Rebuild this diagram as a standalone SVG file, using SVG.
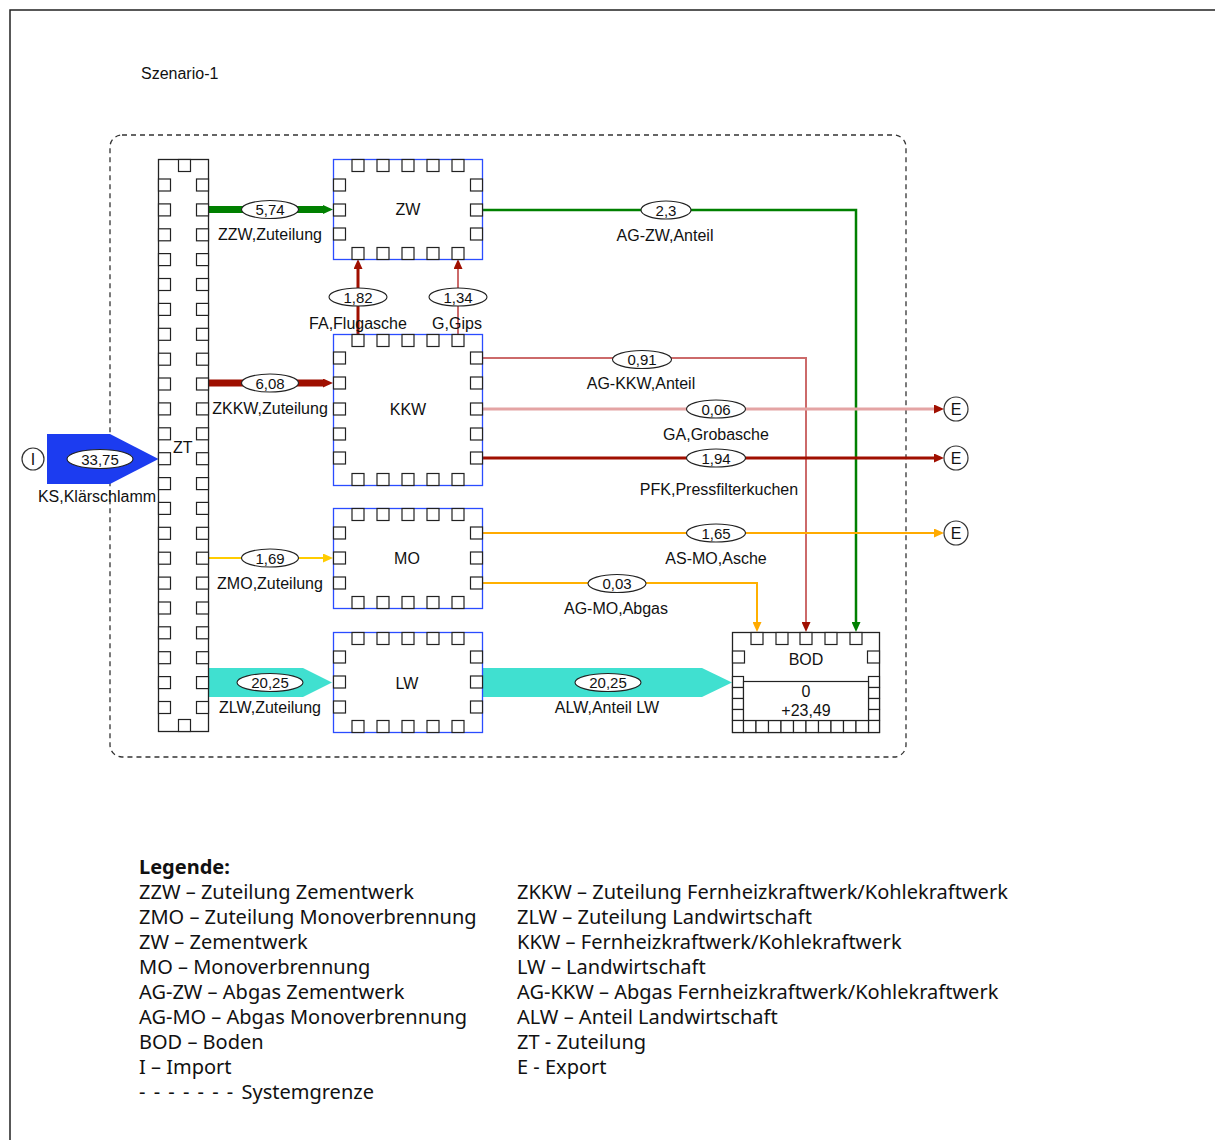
<svg xmlns="http://www.w3.org/2000/svg" xmlns:xlink="http://www.w3.org/1999/xlink" width="1215" height="1140" viewBox="0 0 1215 1140">
<style>
.t{font-family:"Liberation Sans",Arial,sans-serif;font-size:16px;text-anchor:middle;fill:#111}
.n{font-family:"Liberation Sans",Arial,sans-serif;font-size:15px;text-anchor:middle;fill:#111}
.ts{font-family:"Liberation Sans",Arial,sans-serif;font-size:16px;fill:#111}
.lg{font-family:"Noto Sans",sans-serif;font-size:20px;fill:#111}
.lgb{font-family:"Noto Sans",sans-serif;font-size:20px;font-weight:bold;fill:#111}
.port{fill:#fff;stroke:#222;stroke-width:1.2}
.node{fill:#fff;stroke:#2a4cff;stroke-width:1.3}
.bnode{fill:#fff;stroke:#222;stroke-width:1.3}
.ell{fill:#fff;stroke:#222;stroke-width:1.1}
.circ{fill:#fff;stroke:#333;stroke-width:1.2}
.ln{fill:none}
</style>
<defs>
<rect id="p" class="port" width="12" height="12"/>
<marker id="aG" markerUnits="userSpaceOnUse" markerWidth="10" markerHeight="9" refX="0" refY="4.5" orient="auto"><path d="M0,0 L10,4.5 L0,9 z" fill="#008000"/></marker>
<marker id="aR" markerUnits="userSpaceOnUse" markerWidth="10" markerHeight="9" refX="0" refY="4.5" orient="auto"><path d="M0,0 L10,4.5 L0,9 z" fill="#a00f00"/></marker>
<marker id="aY" markerUnits="userSpaceOnUse" markerWidth="10" markerHeight="9" refX="0" refY="4.5" orient="auto"><path d="M0,0 L10,4.5 L0,9 z" fill="#ffcc00"/></marker>
<marker id="aO" markerUnits="userSpaceOnUse" markerWidth="10" markerHeight="9" refX="0" refY="4.5" orient="auto"><path d="M0,0 L10,4.5 L0,9 z" fill="#ffaa00"/></marker>
</defs>
<rect x="0" y="0" width="1215" height="1140" fill="#fff"/>
<rect x="10" y="10" width="1230" height="1150" fill="none" stroke="#222" stroke-width="1.5"/>
<text class="ts" x="141" y="79">Szenario-1</text>
<rect id="systemgrenze" x="110" y="135" width="796" height="622" rx="12" ry="12" fill="none" stroke="#333" stroke-width="1.3" stroke-dasharray="5,4"/>

<g id="connectors">
  <polygon points="47,434 110,434 158.5,459 110,484 47,484" fill="#1c3cf0"/>
  <line class="ln" x1="208.5" y1="209.5" x2="323" y2="209.5" stroke="#008000" stroke-width="7" marker-end="url(#aG)"/>
  <line class="ln" x1="208.5" y1="383" x2="323" y2="383" stroke="#9e0f00" stroke-width="7" marker-end="url(#aR)"/>
  <line class="ln" x1="208.5" y1="558" x2="323" y2="558" stroke="#ffcc00" stroke-width="2" marker-end="url(#aY)"/>
  <polygon points="208.5,668 303,668 332,682.5 303,697 208.5,697" fill="#40e0d0"/>
  <line class="ln" x1="358" y1="334" x2="358" y2="269" stroke="#a00f00" stroke-width="3" marker-end="url(#aR)"/>
  <line class="ln" x1="458" y1="334" x2="458" y2="269" stroke="#cc6a6a" stroke-width="2" marker-end="url(#aR)"/>
  <path class="ln" d="M483,210 H856 V622" stroke="#008000" stroke-width="2.5" marker-end="url(#aG)"/>
  <path class="ln" d="M483,358 H806 V622" stroke="#cc6a6a" stroke-width="2" marker-end="url(#aR)"/>
  <path class="ln" d="M483,409 H934" stroke="#e4a4a4" stroke-width="3" marker-end="url(#aR)"/>
  <path class="ln" d="M483,458 H934" stroke="#a00f00" stroke-width="3" marker-end="url(#aR)"/>
  <path class="ln" d="M483,533 H934" stroke="#ffaa00" stroke-width="2" marker-end="url(#aO)"/>
  <path class="ln" d="M483,583 H757 V622" stroke="#ffb000" stroke-width="2" marker-end="url(#aO)"/>
  <polygon points="482.5,668 702,668 732,682.5 702,697 482.5,697" fill="#40e0d0"/>

  <ellipse class="ell" cx="100" cy="459" rx="33" ry="9.5"/><text class="n" x="100" y="464.5">33,75</text>
  <text class="t" x="97" y="502">KS,Klärschlamm</text>
  <ellipse class="ell" cx="270" cy="209.5" rx="28.5" ry="9"/><text class="n" x="270" y="215">5,74</text>
  <text class="t" x="270" y="240">ZZW,Zuteilung</text>
  <ellipse class="ell" cx="270" cy="383" rx="28.5" ry="9"/><text class="n" x="270" y="388.5">6,08</text>
  <text class="t" x="270" y="414">ZKKW,Zuteilung</text>
  <ellipse class="ell" cx="270" cy="558" rx="28.5" ry="9"/><text class="n" x="270" y="563.5">1,69</text>
  <text class="t" x="270" y="589">ZMO,Zuteilung</text>
  <ellipse class="ell" cx="270" cy="682.5" rx="33" ry="9"/><text class="n" x="270" y="688">20,25</text>
  <text class="t" x="270" y="713">ZLW,Zuteilung</text>
  <ellipse class="ell" cx="358" cy="297" rx="29" ry="9"/><text class="n" x="358" y="302.5">1,82</text>
  <text class="t" x="358" y="329">FA,Flugasche</text>
  <ellipse class="ell" cx="458" cy="297" rx="29" ry="9"/><text class="n" x="458" y="302.5">1,34</text>
  <text class="t" x="457" y="329">G,Gips</text>
  <ellipse class="ell" cx="666" cy="210" rx="25" ry="9"/><text class="n" x="666" y="215.5">2,3</text>
  <text class="t" x="665" y="241">AG-ZW,Anteil</text>
  <ellipse class="ell" cx="642" cy="359.5" rx="29.5" ry="9"/><text class="n" x="642" y="365">0,91</text>
  <text class="t" x="641" y="389">AG-KKW,Anteil</text>
  <ellipse class="ell" cx="716" cy="409" rx="29.5" ry="9"/><text class="n" x="716" y="414.5">0,06</text>
  <text class="t" x="716" y="440">GA,Grobasche</text>
  <ellipse class="ell" cx="716" cy="458" rx="29.5" ry="9"/><text class="n" x="716" y="463.5">1,94</text>
  <text class="t" x="719" y="495">PFK,Pressfilterkuchen</text>
  <ellipse class="ell" cx="716" cy="533" rx="29.5" ry="9"/><text class="n" x="716" y="538.5">1,65</text>
  <text class="t" x="716" y="564">AS-MO,Asche</text>
  <ellipse class="ell" cx="617" cy="583.5" rx="29" ry="9"/><text class="n" x="617" y="589">0,03</text>
  <text class="t" x="616" y="614">AG-MO,Abgas</text>
  <ellipse class="ell" cx="608" cy="682.5" rx="33" ry="9"/><text class="n" x="608" y="688">20,25</text>
  <text class="t" x="607" y="713">ALW,Anteil LW</text>
</g>

<g id="node-I"><circle class="circ" cx="33" cy="459" r="11"/><text class="t" x="33" y="465">I</text></g>
<g id="node-E1"><circle class="circ" cx="956" cy="409" r="12"/><text class="t" x="956" y="415">E</text></g>
<g id="node-E2"><circle class="circ" cx="956" cy="458" r="12"/><text class="t" x="956" y="464">E</text></g>
<g id="node-E3"><circle class="circ" cx="956" cy="533" r="12"/><text class="t" x="956" y="539">E</text></g>

<g id="node-ZT">
  <rect class="bnode" x="158.5" y="159.5" width="50" height="572"/>
  <use href="#p" x="178.5" y="159.5"/><use href="#p" x="178.5" y="719.5"/>
  <use href="#p" x="158.5" y="179"/><use href="#p" x="196.5" y="179"/>
  <use href="#p" x="158.5" y="203.9"/><use href="#p" x="196.5" y="203.9"/>
  <use href="#p" x="158.5" y="228.8"/><use href="#p" x="196.5" y="228.8"/>
  <use href="#p" x="158.5" y="253.6"/><use href="#p" x="196.5" y="253.6"/>
  <use href="#p" x="158.5" y="278.5"/><use href="#p" x="196.5" y="278.5"/>
  <use href="#p" x="158.5" y="303.4"/><use href="#p" x="196.5" y="303.4"/>
  <use href="#p" x="158.5" y="328.3"/><use href="#p" x="196.5" y="328.3"/>
  <use href="#p" x="158.5" y="353.2"/><use href="#p" x="196.5" y="353.2"/>
  <use href="#p" x="158.5" y="378"/><use href="#p" x="196.5" y="378"/>
  <use href="#p" x="158.5" y="402.9"/><use href="#p" x="196.5" y="402.9"/>
  <use href="#p" x="158.5" y="427.8"/><use href="#p" x="196.5" y="427.8"/>
  <use href="#p" x="158.5" y="452.7"/><use href="#p" x="196.5" y="452.7"/>
  <use href="#p" x="158.5" y="477.6"/><use href="#p" x="196.5" y="477.6"/>
  <use href="#p" x="158.5" y="502.4"/><use href="#p" x="196.5" y="502.4"/>
  <use href="#p" x="158.5" y="527.3"/><use href="#p" x="196.5" y="527.3"/>
  <use href="#p" x="158.5" y="552.2"/><use href="#p" x="196.5" y="552.2"/>
  <use href="#p" x="158.5" y="577.1"/><use href="#p" x="196.5" y="577.1"/>
  <use href="#p" x="158.5" y="602"/><use href="#p" x="196.5" y="602"/>
  <use href="#p" x="158.5" y="626.8"/><use href="#p" x="196.5" y="626.8"/>
  <use href="#p" x="158.5" y="651.7"/><use href="#p" x="196.5" y="651.7"/>
  <use href="#p" x="158.5" y="676.6"/><use href="#p" x="196.5" y="676.6"/>
  <use href="#p" x="158.5" y="701.5"/><use href="#p" x="196.5" y="701.5"/>
  <text class="ts" x="173" y="453">ZT</text>
</g>

<g id="node-ZW">
  <rect class="node" x="333.5" y="159.5" width="149" height="100"/>
  <use href="#p" x="352" y="159.5"/><use href="#p" x="377" y="159.5"/><use href="#p" x="402" y="159.5"/><use href="#p" x="427" y="159.5"/><use href="#p" x="452" y="159.5"/>
  <use href="#p" x="352" y="247.5"/><use href="#p" x="377" y="247.5"/><use href="#p" x="402" y="247.5"/><use href="#p" x="427" y="247.5"/><use href="#p" x="452" y="247.5"/>
  <use href="#p" x="333.5" y="179"/><use href="#p" x="333.5" y="204"/><use href="#p" x="333.5" y="228"/>
  <use href="#p" x="470.5" y="179"/><use href="#p" x="470.5" y="204"/><use href="#p" x="470.5" y="228"/>
  <text class="t" x="408" y="215">ZW</text>
</g>

<g id="node-KKW">
  <rect class="node" x="333.5" y="334.5" width="149" height="151"/>
  <use href="#p" x="352" y="334.5"/><use href="#p" x="377" y="334.5"/><use href="#p" x="402" y="334.5"/><use href="#p" x="427" y="334.5"/><use href="#p" x="452" y="334.5"/>
  <use href="#p" x="352" y="473.5"/><use href="#p" x="377" y="473.5"/><use href="#p" x="402" y="473.5"/><use href="#p" x="427" y="473.5"/><use href="#p" x="452" y="473.5"/>
  <use href="#p" x="333.5" y="352"/><use href="#p" x="333.5" y="377"/><use href="#p" x="333.5" y="403"/><use href="#p" x="333.5" y="428"/><use href="#p" x="333.5" y="452"/>
  <use href="#p" x="470.5" y="352"/><use href="#p" x="470.5" y="377"/><use href="#p" x="470.5" y="403"/><use href="#p" x="470.5" y="428"/><use href="#p" x="470.5" y="452"/>
  <text class="t" x="408" y="415">KKW</text>
</g>

<g id="node-MO">
  <rect class="node" x="333.5" y="508.5" width="149" height="100"/>
  <use href="#p" x="352" y="508.5"/><use href="#p" x="377" y="508.5"/><use href="#p" x="402" y="508.5"/><use href="#p" x="427" y="508.5"/><use href="#p" x="452" y="508.5"/>
  <use href="#p" x="352" y="596.5"/><use href="#p" x="377" y="596.5"/><use href="#p" x="402" y="596.5"/><use href="#p" x="427" y="596.5"/><use href="#p" x="452" y="596.5"/>
  <use href="#p" x="333.5" y="527"/><use href="#p" x="333.5" y="552"/><use href="#p" x="333.5" y="577"/>
  <use href="#p" x="470.5" y="527"/><use href="#p" x="470.5" y="552"/><use href="#p" x="470.5" y="577"/>
  <text class="t" x="407" y="564">MO</text>
</g>

<g id="node-LW">
  <rect class="node" x="333.5" y="632.5" width="149" height="100"/>
  <use href="#p" x="352" y="632.5"/><use href="#p" x="377" y="632.5"/><use href="#p" x="402" y="632.5"/><use href="#p" x="427" y="632.5"/><use href="#p" x="452" y="632.5"/>
  <use href="#p" x="352" y="720.5"/><use href="#p" x="377" y="720.5"/><use href="#p" x="402" y="720.5"/><use href="#p" x="427" y="720.5"/><use href="#p" x="452" y="720.5"/>
  <use href="#p" x="333.5" y="651"/><use href="#p" x="333.5" y="676"/><use href="#p" x="333.5" y="701"/>
  <use href="#p" x="470.5" y="651"/><use href="#p" x="470.5" y="676"/><use href="#p" x="470.5" y="701"/>
  <text class="t" x="407" y="689">LW</text>
</g>

<g id="node-BOD">
  <rect class="bnode" x="732.5" y="632.5" width="147" height="100"/>
  <use href="#p" x="751" y="632.5"/><use href="#p" x="776" y="632.5"/><use href="#p" x="800" y="632.5"/><use href="#p" x="825" y="632.5"/><use href="#p" x="850" y="632.5"/>
  <use href="#p" x="732.5" y="651"/><use href="#p" x="867.5" y="651"/>
  <rect class="port" x="732.5" y="676.5" width="11" height="11"/><rect class="port" x="732.5" y="687.5" width="11" height="11"/><rect class="port" x="732.5" y="698.5" width="11" height="11"/><rect class="port" x="732.5" y="709.5" width="11" height="11"/><rect class="port" x="732.5" y="720.5" width="11" height="12"/>
  <rect class="port" x="868.5" y="676.5" width="11" height="11"/><rect class="port" x="868.5" y="687.5" width="11" height="11"/><rect class="port" x="868.5" y="698.5" width="11" height="11"/><rect class="port" x="868.5" y="709.5" width="11" height="11"/><rect class="port" x="868.5" y="720.5" width="11" height="12"/>
  <rect class="port" x="743.5" y="720.5" width="12.5" height="12"/><rect class="port" x="756" y="720.5" width="12.5" height="12"/><rect class="port" x="768.5" y="720.5" width="12.5" height="12"/><rect class="port" x="781" y="720.5" width="12.5" height="12"/><rect class="port" x="793.5" y="720.5" width="12.5" height="12"/><rect class="port" x="806" y="720.5" width="12.5" height="12"/><rect class="port" x="818.5" y="720.5" width="12.5" height="12"/><rect class="port" x="831" y="720.5" width="12.5" height="12"/><rect class="port" x="843.5" y="720.5" width="12.5" height="12"/><rect class="port" x="856" y="720.5" width="12.5" height="12"/>
  <rect x="743.5" y="681.5" width="125" height="39" fill="#fff" stroke="#222" stroke-width="1.2"/>
  <text class="t" x="806" y="665">BOD</text>
  <text class="t" x="806" y="697">0</text>
  <text class="t" x="806" y="716">+23,49</text>
</g>

<g id="legend">
  <text class="lgb" x="139" y="874">Legende:</text>
  <text class="lg" x="139" y="899">ZZW – Zuteilung Zementwerk</text>
  <text class="lg" x="139" y="924">ZMO – Zuteilung Monoverbrennung</text>
  <text class="lg" x="139" y="949">ZW – Zementwerk</text>
  <text class="lg" x="139" y="974">MO – Monoverbrennung</text>
  <text class="lg" x="139" y="999">AG-ZW – Abgas Zementwerk</text>
  <text class="lg" x="139" y="1024">AG-MO – Abgas Monoverbrennung</text>
  <text class="lg" x="139" y="1049">BOD – Boden</text>
  <text class="lg" x="139" y="1074">I – Import</text>
  <text class="lg" x="139" y="1099" word-spacing="3">- - - - - - - Systemgrenze</text>
  <text class="lg" x="517" y="899">ZKKW – Zuteilung Fernheizkraftwerk/Kohlekraftwerk</text>
  <text class="lg" x="517" y="924">ZLW – Zuteilung Landwirtschaft</text>
  <text class="lg" x="517" y="949">KKW – Fernheizkraftwerk/Kohlekraftwerk</text>
  <text class="lg" x="517" y="974">LW – Landwirtschaft</text>
  <text class="lg" x="517" y="999">AG-KKW – Abgas Fernheizkraftwerk/Kohlekraftwerk</text>
  <text class="lg" x="517" y="1024">ALW – Anteil Landwirtschaft</text>
  <text class="lg" x="517" y="1049">ZT - Zuteilung</text>
  <text class="lg" x="517" y="1074">E - Export</text>
</g>
</svg>
